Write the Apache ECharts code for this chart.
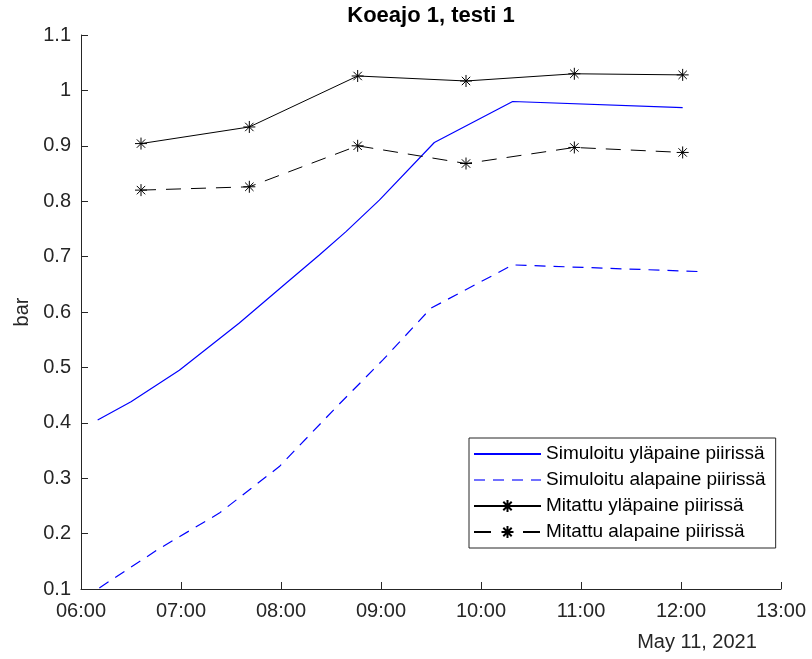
<!DOCTYPE html>
<html>
<head>
<meta charset="utf-8">
<script src="https://cdn.jsdelivr.net/npm/echarts@6/dist/echarts.min.js"></script>
<style>
  html, body { margin: 0; padding: 0; background: #fff; }
  #chart { width: 812px; height: 659px; }
</style>
</head>
<body>
<div id="chart"></div>
<script>
// data (time of day, bar)
var simUpperTimes = ['06:10', '06:30', '06:59', '07:35', '08:03', '08:23', '08:39', '08:59', '09:32', '10:19', '12:01'];
var simUpperValues = [0.405, 0.438, 0.495, 0.580, 0.652, 0.703, 0.745, 0.802, 0.906, 0.980, 0.969];
var simLowerTimes = ['06:11', '06:47', '07:23', '07:59', '08:35', '09:01', '09:30', '10:19', '12:11'];
var simLowerValues = [0.102, 0.173, 0.237, 0.321, 0.434, 0.513, 0.607, 0.685, 0.673];
var measTimes = ['06:36', '07:41', '08:46', '09:51', '10:56', '12:01'];
var measUpperValues = [0.904, 0.934, 1.026, 1.017, 1.030, 1.028];
var measLowerValues = [0.820, 0.826, 0.900, 0.868, 0.897, 0.888];
var seriesNames = ['Simuloitu yläpaine piirissä', 'Simuloitu alapaine piirissä', 'Mitattu yläpaine piirissä', 'Mitattu alapaine piirissä'];

var font = 'Liberation Sans, Arial, Helvetica, sans-serif';
var axisColor = '#262626';
var star = 'path://M6,0L6,12M0,6L12,6M1.8,1.8L10.2,10.2M1.8,10.2L10.2,1.8';
var noFill = 'rgba(0,0,0,0)';

function hours(t) {
  var p = t.split(':');
  return +p[0] + (+p[1]) / 60;
}
function pairs(times, values) {
  return times.map(function (t, i) { return [hours(t), values[i]]; });
}

var chart = echarts.init(document.getElementById('chart'));

var option = {
  animation: false,
  backgroundColor: '#fff',
  grid: { left: 81, right: 31, top: 35, bottom: 70 },
  graphic: [
    {
      type: 'text', x: 431, y: 16,
      style: { text: 'Koeajo 1, testi 1', font: 'bold 22px ' + font, fill: '#000', textAlign: 'center', textVerticalAlign: 'middle' }
    },
    {
      type: 'text', x: 697, y: 642,
      style: { text: 'May 11, 2021', font: '20px ' + font, fill: axisColor, textAlign: 'center', textVerticalAlign: 'middle' }
    }
  ],
  legend: {
    orient: 'vertical',
    left: 469,
    top: 438,
    data: [
      { name: seriesNames[0], itemStyle: { color: noFill, borderWidth: 0 } },
      { name: seriesNames[1], itemStyle: { color: noFill, borderWidth: 0 }, lineStyle: { color: '#7070ff', width: 2 } },
      { name: seriesNames[2] },
      { name: seriesNames[3], lineStyle: { type: [17, 32] } }
    ],
    itemWidth: 67,
    itemHeight: 15,
    itemGap: 6,
    padding: [6, 10, 6, 4],
    borderColor: axisColor,
    borderWidth: 1,
    backgroundColor: '#fff',
    selectedMode: false,
    textStyle: { fontFamily: font, fontSize: 19, color: '#000', lineHeight: 20 }
  },
  xAxis: {
    type: 'value',
    min: 6,
    max: 13,
    interval: 1,
    splitLine: { show: false },
    axisLine: { lineStyle: { color: axisColor, width: 1 } },
    axisTick: { inside: true, length: 7, lineStyle: { color: axisColor } },
    axisLabel: {
      margin: 12,
      color: axisColor,
      fontFamily: font,
      fontSize: 20,
      formatter: function (v) { return (v < 10 ? '0' : '') + v + ':00'; }
    }
  },
  yAxis: {
    type: 'value',
    min: 0.1,
    max: 1.1,
    interval: 0.1,
    name: 'bar',
    nameLocation: 'middle',
    nameGap: 48,
    nameTextStyle: { fontFamily: font, fontSize: 20, color: axisColor },
    splitLine: { show: false },
    axisLine: { show: true, lineStyle: { color: axisColor, width: 1 } },
    axisTick: { show: true, inside: true, length: 7, lineStyle: { color: axisColor } },
    axisLabel: {
      margin: 10,
      color: axisColor,
      fontFamily: font,
      fontSize: 20,
      formatter: function (v) { return String(parseFloat(v.toFixed(1))); }
    }
  },
  series: [
    {
      name: seriesNames[0],
      type: 'line',
      data: pairs(simUpperTimes, simUpperValues),
      symbol: 'none',
      lineStyle: { color: '#0000ff', width: 1.2 },
      itemStyle: { color: '#0000ff' }
    },
    {
      name: seriesNames[1],
      type: 'line',
      data: pairs(simLowerTimes, simLowerValues),
      symbol: 'none',
      lineStyle: { color: '#0000ff', width: 1.2, type: [11, 8] },
      itemStyle: { color: '#0000ff' }
    },
    {
      name: seriesNames[2],
      type: 'line',
      data: pairs(measTimes, measUpperValues),
      symbol: star,
      symbolSize: 12,
      showAllSymbol: true,
      lineStyle: { color: '#000', width: 1 },
      itemStyle: { color: '#000', borderColor: '#000', borderWidth: 1 }
    },
    {
      name: seriesNames[3],
      type: 'line',
      data: pairs(measTimes, measLowerValues),
      symbol: star,
      symbolSize: 12,
      showAllSymbol: true,
      lineStyle: { color: '#000', width: 1, type: [15, 10] },
      itemStyle: { color: '#000', borderColor: '#000', borderWidth: 1 }
    }
  ]
};

chart.setOption(option);
</script>
</body>
</html>
